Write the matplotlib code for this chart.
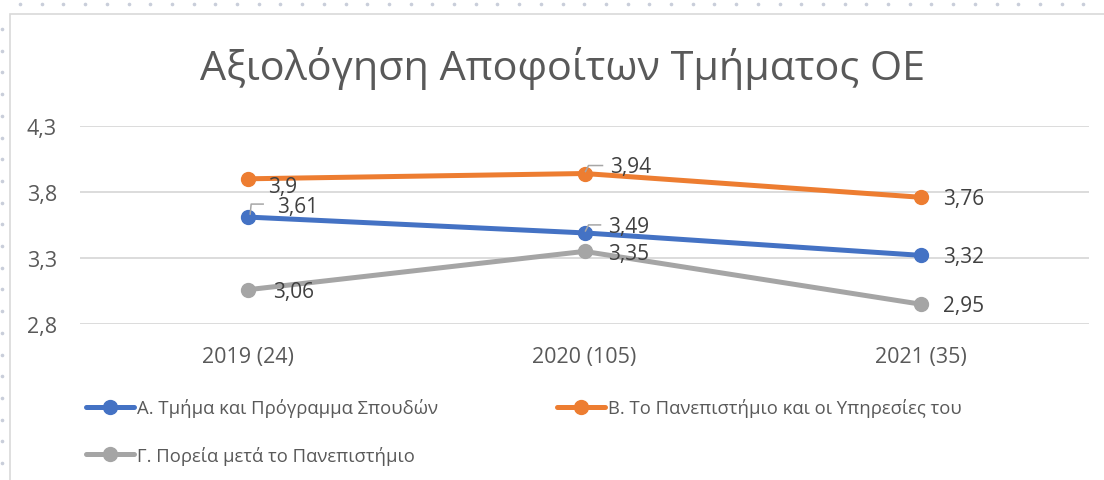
import matplotlib
matplotlib.use("Agg")
import matplotlib.pyplot as plt
from matplotlib.lines import Line2D
from matplotlib.patches import Rectangle
from matplotlib.transforms import ScaledTranslation
import numpy as np

plt.rcParams['font.family'] = ['Open Sans', 'DejaVu Sans']

title = "Αξιολόγηση Αποφοίτων Τμήματος ΟΕ"
categories = ["2019 (24)", "2020 (105)", "2021 (35)"]
series_names = ["Α. Τμήμα και Πρόγραμμα Σπουδών",
                "Β. Το Πανεπιστήμιο και οι Υπηρεσίες του",
                "Γ. Πορεία μετά το Πανεπιστήμιο"]
values_a = [3.61, 3.49, 3.32]
values_b = [3.90, 3.94, 3.76]
values_c = [3.06, 3.35, 2.95]
yticks = [2.8, 3.3, 3.8, 4.3]
ytick_labels = ["2,8", "3,3", "3,8", "4,3"]
label_texts_a = ["3,61", "3,49", "3,32"]
label_texts_b = ["3,9", "3,94", "3,76"]
label_texts_c = ["3,06", "3,35", "2,95"]

colors = ["#4472C4", "#ED7D31", "#A5A5A5"]
text_color = "#595959"
W, H = 1104, 481
fig = plt.figure(figsize=(W / 100, H / 100), dpi=100)
fig.patch.set_facecolor("white")

# decorative frame and dotted surround
fig.add_artist(Rectangle((10 / W, -0.1), 1.2, 1 - 15 / H + 0.1, transform=fig.transFigure,
                         fill=False, edgecolor="#D9D9D9", linewidth=1.2))
dx = np.arange(20, W, 21.7)
fig.add_artist(Line2D(dx / W, np.full_like(dx, 1 - 5 / H), transform=fig.transFigure,
                      linestyle="none", marker="o", markersize=1.6, color="#C9CEDA"))
dy = np.arange(30, H, 21.7)
fig.add_artist(Line2D(np.full_like(dy, 1.5 / W), 1 - dy / H, transform=fig.transFigure,
                      linestyle="none", marker="o", markersize=1.6, color="#C9CEDA"))

left, right, top, bottom = 80, 1089, 127, 325
ax = fig.add_axes([left / W, 1 - bottom / H, (right - left) / W, (bottom - top) / H])
x = np.arange(len(categories))
ax.set_xlim(-0.5, len(categories) - 0.5)
ax.set_ylim(2.8, 4.3)
ax.set_yticks(yticks)
ax.set_yticklabels(ytick_labels)
ax.set_xticks(x)
ax.set_xticklabels(categories)
ax.tick_params(axis="both", length=0, labelsize=15.5, labelcolor=text_color)
ax.tick_params(axis="y", pad=16.5)
ax.tick_params(axis="x", pad=16)
for s in ax.spines.values():
    s.set_visible(False)
ax.yaxis.grid(True, color="#D9D9D9", linewidth=1.3)
ax.set_axisbelow(True)

all_vals = [values_a, values_b, values_c]
handles = []
for vals, c, name in zip(all_vals, colors, series_names):
    h, = ax.plot(x, vals, color=c, linewidth=3.6, marker="o", markersize=10,
                 solid_capstyle="round", label=name, clip_on=False)
    handles.append(h)

# data labels: offsets in pixels (dx, dy up)
offsets_a = [(49, 11), (44, 6), (43, -1)]
offsets_b = [(34, -8), (46, 7), (43, -1)]
offsets_c = [(45, -2), (44, -2), (43, -1)]
for vals, labs, offs in [(values_a, label_texts_a, offsets_a),
                         (values_b, label_texts_b, offsets_b),
                         (values_c, label_texts_c, offsets_c)]:
    for xi, v, t, (ox, oy) in zip(x, vals, labs, offs):
        ax.annotate(t, (xi, v), xytext=(ox * 0.72, oy * 0.72), textcoords="offset points",
                    ha="center", va="center", fontsize=15, color="#404040")

# leader lines (pixel offsets from point)
leaders = [((0, values_a[0]), [(2, 3), (3, 13), (15, 13)]),
           ((1, values_b[1]), [(1, 2), (4, 8), (18, 8)]),
           ((1, values_a[1]), [(1, 2), (4, 8), (16, 8)])]
for (px, py), pts in leaders:
    tr = fig.dpi_scale_trans + ScaledTranslation(px, py, ax.transData)
    xs = [p[0] / 100 for p in pts]
    ys = [p[1] / 100 for p in pts]
    fig.add_artist(Line2D(xs, ys, transform=tr, color="#A6A6A6", linewidth=1.1))

fig.text(563 / W, 1 - 69 / H, title, ha="center", va="center", fontsize=29.8, color=text_color)

# legend entries
leg_pos = [(86, 409), (557, 409), (86, 456)]
for h, (lx, ly) in zip(handles, leg_pos):
    lg = fig.legend([h], [h.get_label()], loc="center left",
                    bbox_to_anchor=(lx / W, 1 - ly / H), frameon=False,
                    fontsize=13.3, handlelength=2.6, handletextpad=0.15,
                    borderpad=0, borderaxespad=0, labelcolor=text_color)

fig.savefig("out.png", dpi=100)
